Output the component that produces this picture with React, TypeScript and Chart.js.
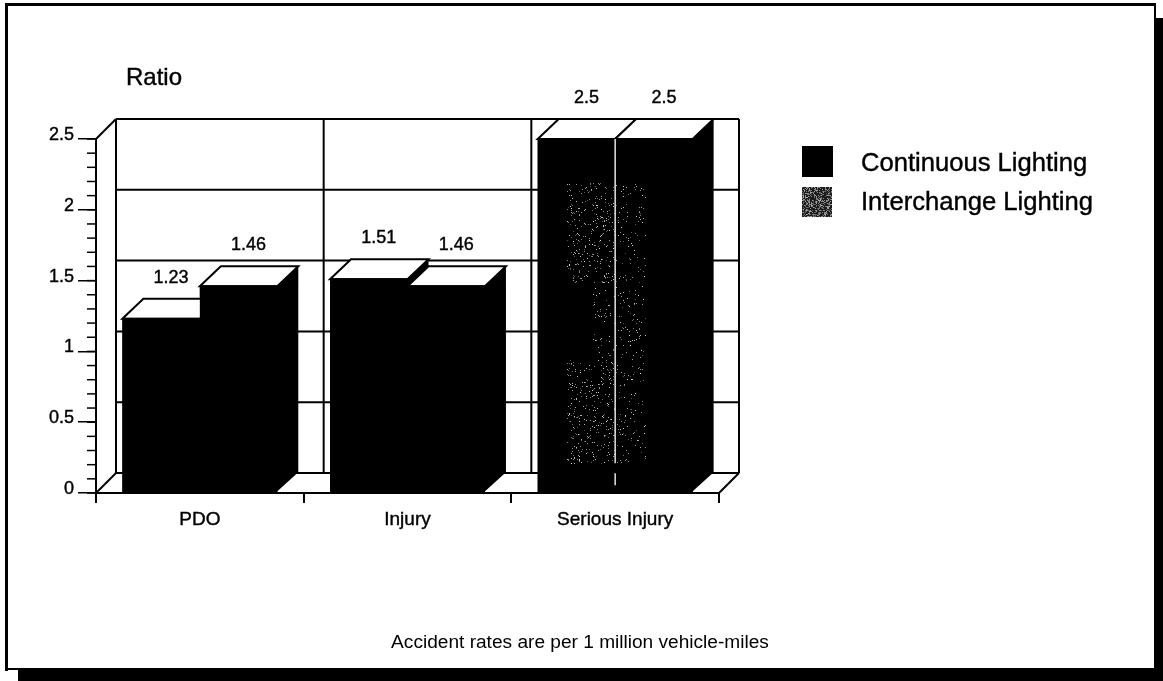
import React, { useEffect, useRef } from "react";
import { Chart, registerables } from "chart.js";

Chart.register(...registerables);

const categories = ["PDO", "Injury", "Serious Injury"];
const continuousLighting = [1.23, 1.51, 2.5];
const interchangeLighting = [1.46, 1.46, 2.5];
const seriesNames = ["Continuous Lighting", "Interchange Lighting"];
const yMajorStep = 0.5;
const yMinorStep = 0.1;
const yMax = 2.5;
const axisTitle = "Ratio";
const footNote = "Accident rates are per 1 million vehicle-miles";

const FONT = '"Liberation Sans", Arial, sans-serif';
const W = 1163;
const H = 681;
const WALL_X = 20;
const BAR_X = 21;
const DEPTH_Y = 20;

function speckle(ctx: CanvasRenderingContext2D, x0: number, y0: number, x1: number, y1: number, density: number, seed: number, shade = "#d8d8d8") {
  let s = seed >>> 0;
  const next = () => {
    s = (Math.imul(s, 1664525) + 1013904223) >>> 0;
    return s / 4294967296;
  };
  ctx.fillStyle = shade;
  for (let y = Math.round(y0); y < y1; y++) {
    for (let x = Math.round(x0); x < x1; x++) {
      if (next() < density) {
        ctx.globalAlpha = 0.35 + next() * 0.65;
        ctx.fillRect(x, y, 1, 1);
      }
    }
  }
  ctx.globalAlpha = 1;
}

function boldText(c: CanvasRenderingContext2D, text: string, x: number, y: number) {
  c.lineWidth = 0.4;
  c.strokeStyle = "#000";
  c.fillText(text, x, y);
  c.strokeText(text, x, y);
}

const framePlugin = {
  id: "frame",
  beforeDraw(chart: any) {
    const c: CanvasRenderingContext2D = chart.ctx;
    c.save();
    c.fillStyle = "#fff";
    c.fillRect(0, 0, W, H);
    c.fillStyle = "#000";
    c.fillRect(5, 3, 1151, 3);
    c.fillRect(5, 3, 3, 668);
    c.fillRect(5, 668, 1151, 2);
    c.fillRect(1154, 3, 2, 666);
    c.fillRect(1156, 18, 7, 663);
    c.fillRect(18, 669, 1145, 12);
    c.restore();
  },
};

const wallsPlugin = {
  id: "walls",
  beforeDatasetsDraw(chart: any) {
    const c: CanvasRenderingContext2D = chart.ctx;
    const { x, y } = chart.scales;
    const left = x.left;
    const right = x.right;
    const bottom = y.getPixelForValue(0);
    const top = y.getPixelForValue(yMax);
    c.save();
    c.strokeStyle = "#000";
    c.lineWidth = 2;
    const seg = (a: number, b: number, p: number, q: number) => {
      c.beginPath();
      c.moveTo(a, b);
      c.lineTo(p, q);
      c.stroke();
    };
    for (let v = 0; v <= yMax + 1e-6; v += yMajorStep) {
      const py = y.getPixelForValue(v) - DEPTH_Y;
      seg(left + WALL_X, py, right + WALL_X, py);
    }
    const step = (right - left) / categories.length;
    for (let i = 0; i <= categories.length; i++) {
      seg(left + step * i + WALL_X, top - DEPTH_Y, left + step * i + WALL_X, bottom - DEPTH_Y);
    }
    seg(left, top, left + WALL_X, top - DEPTH_Y);
    seg(left, bottom, left + WALL_X, bottom - DEPTH_Y);
    seg(right, bottom, right + WALL_X, bottom - DEPTH_Y);
    // minor ticks of the value axis
    c.lineWidth = 1.5;
    const n = Math.round(yMax / yMinorStep);
    for (let i = 0; i <= n; i++) {
      const py = y.getPixelForValue(i * yMinorStep);
      seg(left - 9, py, left, py);
    }
    c.restore();
  },
};

const barsPlugin = {
  id: "bars3d",
  afterDatasetsDraw(chart: any) {
    const c: CanvasRenderingContext2D = chart.ctx;
    const { y } = chart.scales;
    c.save();
    categories.forEach((_, i) => {
      [0, 1].forEach((d) => {
        const el = chart.getDatasetMeta(d).data[i];
        const l = el.x - el.width / 2;
        const r = el.x + el.width / 2;
        const t = el.y;
        const b = el.base;
        // top
        c.fillStyle = "#fff";
        c.strokeStyle = "#000";
        c.lineWidth = 2;
        c.beginPath();
        c.moveTo(l, t);
        c.lineTo(l + BAR_X, t - DEPTH_Y);
        c.lineTo(r + BAR_X, t - DEPTH_Y);
        c.lineTo(r, t);
        c.closePath();
        c.fill();
        c.stroke();
        // side
        c.fillStyle = "#000";
        c.beginPath();
        c.moveTo(r - 1, t);
        c.lineTo(r + BAR_X, t - DEPTH_Y);
        c.lineTo(r + BAR_X, b - DEPTH_Y);
        c.lineTo(r - 1, b);
        c.closePath();
        c.fill();
        // front
        c.fillRect(l, t - 1, r - l, b - t + 1);
      });
    });
    // speckle on the last category
    const a = chart.getDatasetMeta(0).data[2];
    const e = chart.getDatasetMeta(1).data[2];
    const mid = a.x + a.width / 2;
    const sx0 = mid - 48;
    const sx1 = mid + 30;
    const yTop = y.getPixelForValue(2.19);
    const yGapA = y.getPixelForValue(1.48);
    const yGapB = y.getPixelForValue(0.94);
    const yEnd = y.getPixelForValue(0.21);
    speckle(c, sx0, yTop, mid, yGapA, 0.06, 11);
    speckle(c, mid - 22, yGapA, mid, yGapB, 0.025, 23);
    speckle(c, sx0, yGapB, mid, yEnd, 0.06, 37);
    speckle(c, mid, yTop, sx1, yEnd, 0.03, 51);
    c.strokeStyle = "#e4e4e4";
    c.lineWidth = 1.5;
    c.beginPath();
    c.moveTo(mid, e.y);
    c.lineTo(mid, yEnd);
    c.moveTo(mid, yEnd + 10);
    c.lineTo(mid, yEnd + 22);
    c.stroke();
    // value labels
    c.fillStyle = "#000";
    c.font = `18px ${FONT}`;
    c.textAlign = "center";
    c.textBaseline = "middle";
    [0, 1].forEach((d) => {
      chart.getDatasetMeta(d).data.forEach((el: any, i: number) => {
        const v = chart.data.datasets[d].data[i];
        boldText(c, String(v), el.x + 10, el.y - DEPTH_Y - 21);
      });
    });
    c.restore();
  },
};

const textPlugin = {
  id: "texts",
  afterDraw(chart: any) {
    const c: CanvasRenderingContext2D = chart.ctx;
    c.save();
    c.fillStyle = "#000";
    c.textBaseline = "alphabetic";
    c.textAlign = "left";
    c.font = `24px ${FONT}`;
    boldText(c, axisTitle, 126, 85);
    c.font = `25.6px ${FONT}`;
    boldText(c, seriesNames[0], 861, 171);
    boldText(c, seriesNames[1], 861, 210);
    c.fillRect(802, 146, 31, 31);
    c.fillStyle = "#1c1c1c";
    c.fillRect(802, 187, 30, 30);
    speckle(c, 802, 187, 832, 217, 0.45, 77, "#b0b0b0");
    c.fillStyle = "#000";
    c.textAlign = "center";
    c.font = `19.1px ${FONT}`;
    c.fillText(footNote, 580, 648);
    c.restore();
  },
};

export default function App() {
  const ref = useRef<HTMLCanvasElement | null>(null);
  useEffect(() => {
    document.body.style.margin = "0";
    const chart = new Chart(ref.current as HTMLCanvasElement, {
      type: "bar",
      data: {
        labels: categories,
        datasets: [
          { label: seriesNames[0], data: continuousLighting, backgroundColor: "#000", borderWidth: 0, categoryPercentage: 0.746, barPercentage: 1 },
          { label: seriesNames[1], data: interchangeLighting, backgroundColor: "#000", borderWidth: 0, categoryPercentage: 0.746, barPercentage: 1 },
        ],
      },
      options: {
        responsive: false,
        animation: false,
        layout: { padding: { left: 0, top: 139, right: W - 719, bottom: 0 } },
        plugins: { legend: { display: false }, tooltip: { enabled: false }, title: { display: false } },
        scales: {
          x: {
            offset: true,
            grid: { offset: true, drawOnChartArea: false, color: "#000", lineWidth: 2, tickLength: 10 },
            border: { display: true, color: "#000", width: 2 },
            ticks: { color: "#000", font: { family: FONT, size: 19 }, padding: 5, maxRotation: 0, textStrokeColor: "#000", textStrokeWidth: 0.4 },
            afterFit(s: any) { s.height = H - 139 - 354; },
          },
          y: {
            min: 0,
            max: yMax,
            grid: { drawOnChartArea: false, color: "#000", lineWidth: 1.5, tickLength: 18 },
            border: { display: true, color: "#000", width: 2 },
            ticks: {
              stepSize: yMajorStep,
              color: "#000",
              font: { family: FONT, size: 18 },
              padding: 4,
              labelOffset: -4,
              textStrokeColor: "#000",
              textStrokeWidth: 0.4,
              callback: (v: any) => String(v),
            },
            afterFit(s: any) { s.width = 96; },
          },
        },
      },
      plugins: [framePlugin, wallsPlugin, barsPlugin, textPlugin],
    } as any);
    return () => chart.destroy();
  }, []);
  return <canvas ref={ref} width={W} height={H} style={{ display: "block" }} />;
}
